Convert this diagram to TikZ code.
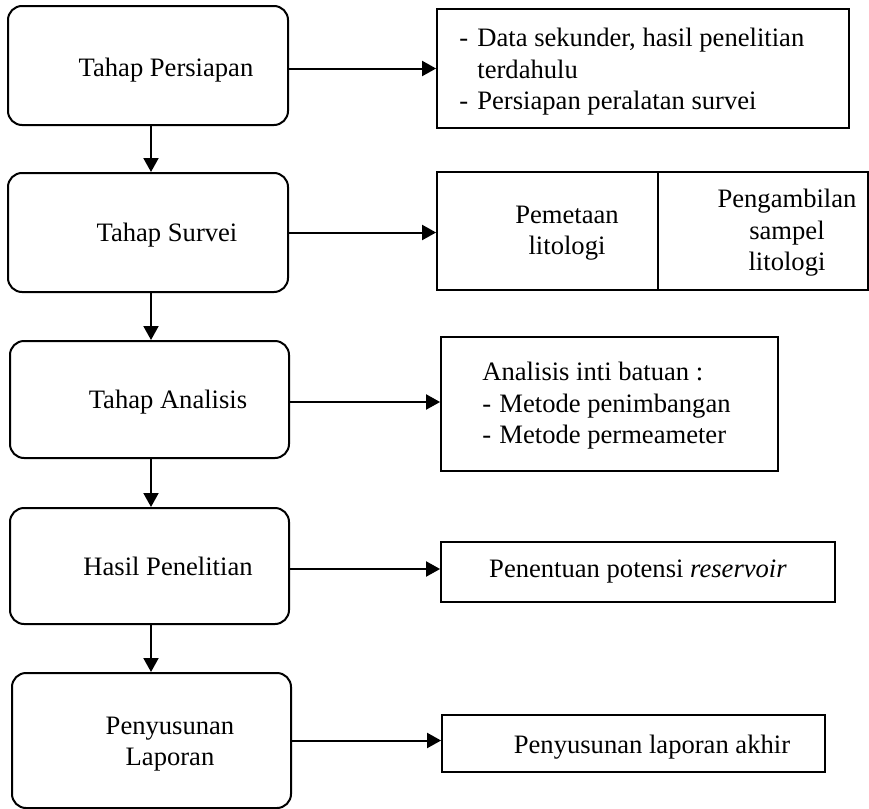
\documentclass[tikz,border=0pt]{standalone}
\usepackage{fontspec}
\setmainfont{Liberation Serif}
\usetikzlibrary{arrows.meta}
\begin{document}
\begin{tikzpicture}[x=0.5pt,y=-0.5pt,
  stage/.style={draw,line width=1pt,rounded corners=7pt,inner sep=0pt},
  sidebox/.style={draw,line width=0.9pt,inner sep=0pt},
  txt/.style={inner sep=0pt,font=\fontsize{13.3}{15.7}\selectfont},
  arr/.style={line width=1pt,-{Triangle[length=7pt,width=7.5pt]}}]
\useasboundingbox (0,0) rectangle (869,809);
% left stage boxes
\node[stage,minimum width=140pt,minimum height=59.5pt] (b1) at (148,65.5) {};
\node[stage,minimum width=140pt,minimum height=59.5pt] (b2) at (148,232.5) {};
\node[stage,minimum width=139.5pt,minimum height=58.5pt] (b3) at (149.5,399.5) {};
\node[stage,minimum width=139.5pt,minimum height=58pt] (b4) at (149.5,566) {};
\node[stage,minimum width=139.5pt,minimum height=67.5pt] (b5) at (151.5,740.5) {};
\node[txt,anchor=base] (t1) at (166,76) {Tahap Persiapan};
\node[txt,anchor=base] (t2) at (167,241) {Tahap Survei};
\node[txt,anchor=base] (t3) at (168,408) {Tahap Analisis};
\node[txt,anchor=base] (t4) at (168,575) {Hasil Penelitian};
\node[txt,align=center] (t5) at (170,744) {Penyusunan\\Laporan};
% right boxes
\node[sidebox,minimum width=206pt,minimum height=59.5pt] (r1) at (643,68.5) {};
\node[sidebox,minimum width=215.5pt,minimum height=59pt] (r2) at (652.5,231) {};
\node[sidebox,minimum width=168.5pt,minimum height=67pt] (r3) at (609.5,404) {};
\node[sidebox,minimum width=197pt,minimum height=30pt] (r4) at (638,572) {};
\node[sidebox,minimum width=191.5pt,minimum height=28.5pt] (r5) at (633.5,743.5) {};
\coordinate (d1) at (658,172);
\coordinate (d2) at (658,290);
\draw[line width=0.9pt] (d1) -- (d2);
\node[txt,align=left,anchor=north west] (s1) at (459,28) {\makebox[9pt][l]{-}Data sekunder, hasil penelitian\\\hspace*{9pt}terdahulu\\\makebox[9pt][l]{-}Persiapan peralatan survei};
\node[txt,align=center] (s2a) at (567,233) {Pemetaan\\litologi};
\node[txt,align=center] (s2b) at (787,233) {Pengambilan\\sampel\\litologi};
\node[txt,align=left,anchor=north west] (s3) at (482,362) {Analisis inti batuan :\\\makebox[8.5pt][l]{-}Metode penimbangan\\\makebox[8.5pt][l]{-}Metode permeameter};
\node[txt,anchor=base] (s4) at (638,577) {Penentuan potensi \textit{reservoir}};
\node[txt,anchor=base] (s5) at (652,753) {Penyusunan laporan akhir};
% vertical arrows
\draw[arr] ([xshift=1.5pt]b1.south) -- ([xshift=1.5pt]b1.south |- b2.north);
\draw[arr] ([xshift=1.5pt]b2.south) -- ([xshift=1.5pt]b2.south |- b3.north);
\draw[arr] ([xshift=0.75pt]b3.south) -- ([xshift=0.75pt]b3.south |- b4.north);
\draw[arr] ([xshift=0.75pt]b4.south) -- ([xshift=0.75pt]b4.south |- b5.north);
% horizontal arrows
\draw[arr] (b1.east |- r1.west) -- (r1.west);
\draw[arr] (b2.east) -- (b2.east -| r2.west);
\draw[arr] ([yshift=-1.25pt]b3.east) -- ([yshift=-1.25pt]b3.east -| r3.west);
\draw[arr] ([yshift=-1.5pt]b4.east) -- ([yshift=-1.5pt]b4.east -| r4.west);
\draw[arr] (b5.east) -- (b5.east -| r5.west);
\end{tikzpicture}
\end{document}
